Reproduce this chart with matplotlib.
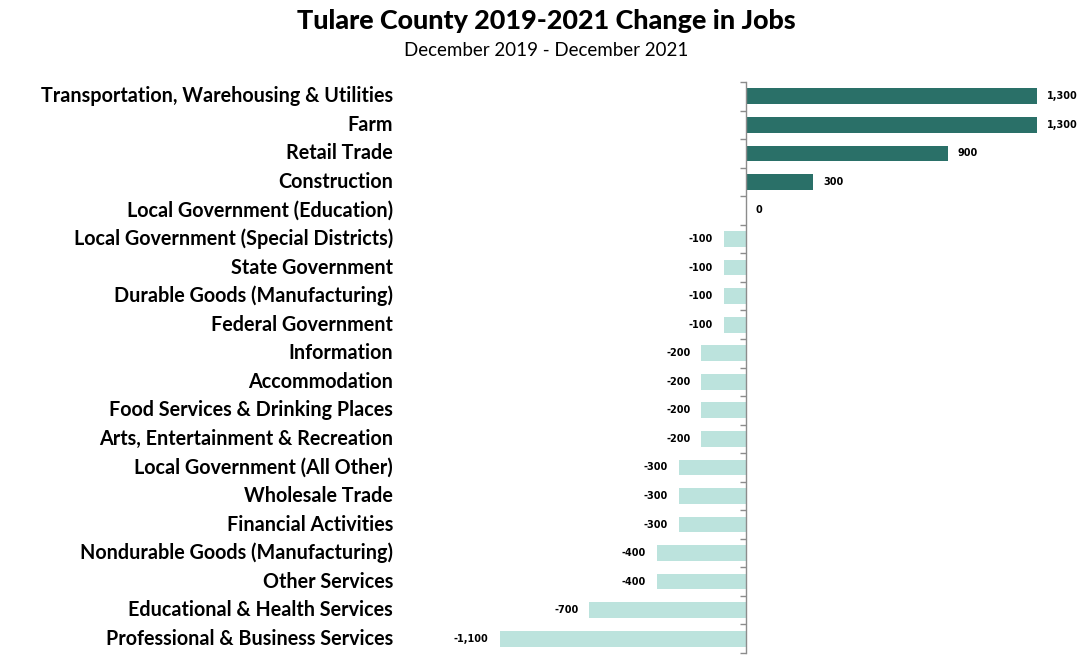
import matplotlib
matplotlib.use("Agg")
import matplotlib.pyplot as plt
import matplotlib.transforms as mtransforms

categories = [
    "Transportation, Warehousing & Utilities",
    "Farm",
    "Retail Trade",
    "Construction",
    "Local Government (Education)",
    "Local Government (Special Districts)",
    "State Government",
    "Durable Goods (Manufacturing)",
    "Federal Government",
    "Information",
    "Accommodation",
    "Food Services & Drinking Places",
    "Arts, Entertainment & Recreation",
    "Local Government (All Other)",
    "Wholesale Trade",
    "Financial Activities",
    "Nondurable Goods (Manufacturing)",
    "Other Services",
    "Educational & Health Services",
    "Professional & Business Services",
]
values = [1300, 1300, 900, 300, 0, -100, -100, -100, -100, -200, -200, -200,
          -200, -300, -300, -300, -400, -400, -700, -1100]

title = "Tulare County 2019-2021 Change in Jobs"
subtitle = "December 2019 - December 2021"

dark = "#2a7068"
light = "#bce3dd"

W, H = 1088, 669
fig = plt.figure(figsize=(W / 100, H / 100), dpi=100)
ax = fig.add_axes([400 / W, (H - 653) / H, (1082 - 400) / W, (653 - 82) / H])

n = len(categories)
ypos = list(range(n))
colors = [dark if v > 0 else light for v in values]
ax.barh(ypos, values, height=0.55, color=colors, zorder=2)

ax.set_xlim(-1546, 1500)
ax.set_ylim(n - 0.5, -0.5)

for s in ["top", "right", "bottom"]:
    ax.spines[s].set_visible(False)
ax.spines["left"].set_position(("data", 0))
ax.spines["left"].set_color("#8c8c8c")
ax.spines["left"].set_linewidth(1.0)
ax.spines["left"].set_zorder(3)
ax.set_xticks([])
ax.set_yticks([i - 0.5 for i in range(n + 1)])
ax.set_yticklabels([])
ax.tick_params(axis="y", direction="out", length=4, color="#8c8c8c", width=1.0)

trans = mtransforms.blended_transform_factory(ax.transAxes, ax.transData)
for i, c in enumerate(categories):
    ax.text(-7 / (1082 - 400), i, c, transform=trans, ha="right", va="center",
            fontsize=14.2, fontweight="bold", family=["Lato", "DejaVu Sans"],
            color="black")

for i, v in enumerate(values):
    lab = f"{v:,}"
    if v >= 0:
        ax.annotate(lab, (v, i), xytext=(7, 0), textcoords="offset points",
                    ha="left", va="center", fontsize=7, fontweight="bold",
                    family="DejaVu Sans")
    else:
        ax.annotate(lab, (v, i), xytext=(-8, 0), textcoords="offset points",
                    ha="right", va="center", fontsize=7, fontweight="bold",
                    family="DejaVu Sans")

fig.text(546 / W, 1 - 21 / H, title, ha="center", va="center", fontsize=19.4,
         fontweight="black", family=["Lato", "DejaVu Sans"])
fig.text(546 / W, 1 - 51 / H, subtitle, ha="center", va="center", fontsize=13.5,
         family=["Lato", "DejaVu Sans"])

fig.savefig("out.png", dpi=100)
